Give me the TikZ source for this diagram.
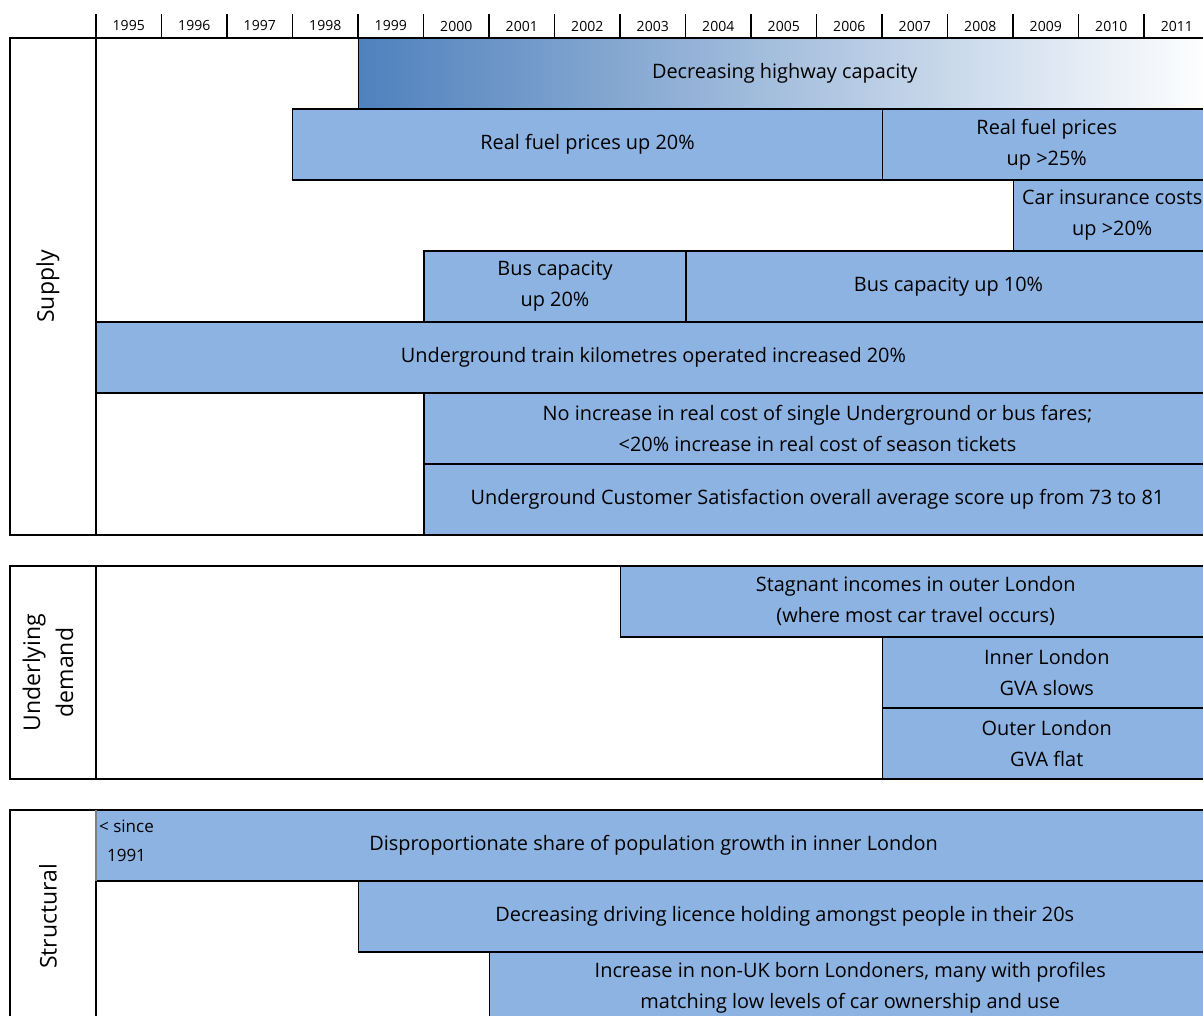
\documentclass[tikz,border=0pt]{standalone}
\usepackage{fontspec}
\setmainfont{Open Sans}
\usetikzlibrary{positioning}
\definecolor{cBar} {RGB}{141,179,226}
\definecolor{cDark}{RGB}{79,129,189}
\tikzset{
  %% coloured cell of the time line
  cell/.style={rectangle, draw=black, fill=cBar, line width=1.5pt,
               anchor=north west, outer sep=0pt, inner sep=0pt,
               minimum width=#1, minimum height=71pt, align=center,
               font=\fontsize{19.9}{31}\selectfont},
  %% panel frame
  frame/.style={draw=black, line width=1.5pt},
  %% rotated panel title
  side/.style={rotate=90, align=center, font=\fontsize{23}{33}\selectfont},
  %% year in the header
  yearlbl/.style={font=\fontsize{14}{18}\selectfont, inner sep=0pt},
}

\begin{document}
\begin{tikzpicture}[x=1pt, y=-1pt]
\path[use as bounding box] (0,0) rectangle (1203,1016);
\clip (0,0) rectangle (1203,1016);

%% ── header with the years ──
\foreach \yr [count=\i from 0] in {1995,...,2011}
{
  \draw[line width=1.5pt] ({96+\i*65.5},14) -- ({96+\i*65.5},37);
  \node[yearlbl] (y\yr) at ({128.75+\i*65.5},26) {\yr};
}
\draw[line width=1.5pt] (1210.5,14) -- (1210.5,37);

%% ════════════════════════════════════════
%%  SUPPLY
%% ════════════════════════════════════════
\node[cell=852.5pt, left color=cDark, right color=white, minimum height=71pt]
      (hwy)   at (358.5,38)  {Decreasing highway capacity};
\node[cell=590pt]   (fuelA) at (292.5,109) {Real fuel prices up 20\%};
\node[cell=328.5pt] (fuelB) at (882.5,109) {Real fuel prices\\up >25\%};
\node[cell=197.5pt] (insur) at (1013.5,180) {Car insurance costs\\up >20\%};
\node[cell=262pt]   (busA)  at (424,251)   {Bus capacity\\up 20\%};
\node[cell=525pt]   (busB)  at (686,251)   {Bus capacity up 10\%};
\node[cell=1115pt]  (tube)  at (96,322)    {Underground train kilometres operated increased 20\%};
\node[cell=787pt]   (fares) at (424,393)   {No increase in real cost of single Underground or bus fares;\\<20\% increase in real cost of season tickets};
\node[cell=787pt]   (csat)  at (424,464)   {Underground Customer Satisfaction overall average score up from 73 to 81};

\draw[frame] (10,38) rectangle (1211,535);
\draw[frame] (96,38) -- (96,535);
\node[side] (supply) at (48,286.5) {Supply};

%% ════════════════════════════════════════
%%  UNDERLYING DEMAND
%% ════════════════════════════════════════
\node[cell=590.5pt] (income)   at (620.5,566) {Stagnant incomes in outer London\\(where most car travel occurs)};
\node[cell=328.5pt] (innergva) at (882.5,637) {Inner London\\GVA slows};
\node[cell=328.5pt] (outergva) at (882.5,708) {Outer London\\GVA flat};

\draw[frame] (10,566) rectangle (1211,779);
\draw[frame] (96,566) -- (96,779);
\node[side] (demand) at (48,672.5) {Underlying\\demand};

%% ════════════════════════════════════════
%%  STRUCTURAL
%% ════════════════════════════════════════
\draw[frame] (10,810) rectangle (1211,1023);
\draw[frame] (96,810) -- (96,1023);

\node[cell=1115pt]  (pop)     at (96,810)    {Disproportionate share of population growth in inner London};
\node[cell=852.5pt] (licence) at (358.5,881) {Decreasing driving licence holding amongst people in their 20s};
\node[cell=721.5pt] (nonuk)   at (489.5,952) {Increase in non-UK born Londoners, many with profiles\\matching low levels of car ownership and use};

%% grey left edge of the population cell
\draw[gray, line width=1.5pt] (pop.north west) -- (pop.south west);
\node[anchor=north west, inner sep=0pt, align=center,
      font=\fontsize{17}{29}\selectfont] (since) at (99,820) {< since\\1991};

\node[side] (structural) at (48,916.5) {Structural};

\end{tikzpicture}
\end{document}
